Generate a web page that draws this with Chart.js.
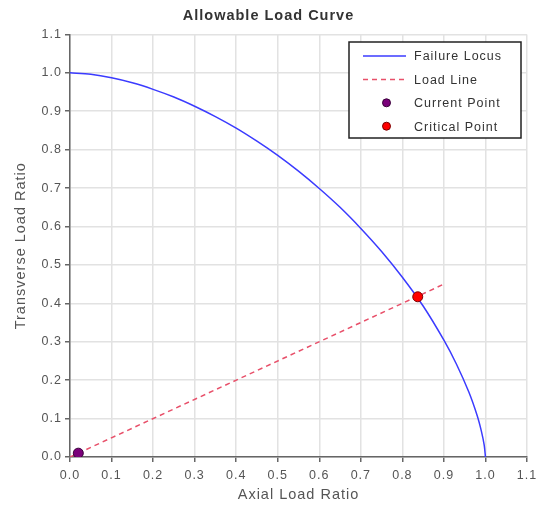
<!DOCTYPE html>
<html>
<head>
<meta charset="utf-8">
<script src="https://cdn.jsdelivr.net/npm/chart.js@4.4.0/dist/chart.umd.min.js"></script>
<style>
  body { margin: 0; background: #fff; }
  #wrap { width: 537px; height: 505px; }
</style>
</head>
<body>
<div id="wrap"><canvas id="myCanvas"></canvas></div>
<script>
// values
var locusX = [0, 0.05, 0.1, 0.15, 0.2, 0.25, 0.3, 0.35, 0.4, 0.45, 0.5, 0.55, 0.6, 0.65, 0.7, 0.75, 0.8, 0.85, 0.9, 0.93, 0.96, 0.98, 0.99, 0.997, 1.0];
var locusY = [1.0, 0.996, 0.987, 0.974, 0.957, 0.937, 0.913, 0.886, 0.856, 0.822, 0.785, 0.744, 0.699, 0.650, 0.595, 0.535, 0.468, 0.393, 0.304, 0.242, 0.169, 0.108, 0.068, 0.031, 0];
var loadLineX = [0, 0.9];
var loadLineY = [0, 0.45];
var currentPoint = [0.02, 0.01];
var criticalPoint = [0.837, 0.417];
var seriesNames = ['Failure Locus', 'Load Line', 'Current Point', 'Critical Point'];

const FONT = "'Liberation Sans', Arial, sans-serif";
const CHART = document.getElementById('myCanvas').getContext('2d');

function toPoints(xs, ys) {
    var pts = [];
    for (var i = 0; i < xs.length; i++) {
        pts.push({x: xs[i], y: ys[i]});
    }
    return pts;
}

var colors = {
    locus: '#3b3bff',
    load: '#e8506a',
    current: '#7a007a',
    critical: '#ff0000'
};

// the reference text is a little spaced out
var spacing = {
    id: 'spacing',
    beforeLayout: function(chart) { chart.ctx.letterSpacing = '1px'; },
    beforeDraw: function(chart) { chart.ctx.letterSpacing = '1px'; }
};

// legend box drawn inside the plot, top right
var boxLegend = {
    id: 'boxLegend',
    afterDraw: function(chart) {
        var ctx = chart.ctx;
        var left = 349, top = 42, w = 172, h = 96;
        ctx.save();
        ctx.fillStyle = '#fff';
        ctx.fillRect(left, top, w, h);
        ctx.strokeStyle = '#222';
        ctx.lineWidth = 1.5;
        ctx.strokeRect(left, top, w, h);
        ctx.font = '12.5px ' + FONT;
        ctx.textBaseline = 'middle';
        for (var i = 0; i < seriesNames.length; i++) {
            var y = top + 14 + i * 23.4;
            if (i === 0 || i === 1) {
                ctx.beginPath();
                ctx.strokeStyle = i === 0 ? colors.locus : colors.load;
                ctx.lineWidth = 1.5;
                ctx.setLineDash(i === 1 ? [5, 4] : []);
                ctx.moveTo(363, y);
                ctx.lineTo(406, y);
                ctx.stroke();
                ctx.setLineDash([]);
            } else {
                ctx.beginPath();
                ctx.arc(386.5, y, 4, 0, Math.PI * 2);
                ctx.fillStyle = i === 2 ? colors.current : colors.critical;
                ctx.fill();
                ctx.strokeStyle = i === 2 ? '#3a003a' : '#7a0000';
                ctx.lineWidth = 1;
                ctx.stroke();
            }
            ctx.fillStyle = '#333';
            ctx.fillText(seriesNames[i], 414, y + 1);
        }
        ctx.restore();
    }
};

function axis(titleText, titlePad, tickPad) {
    return {
        type: 'linear',
        min: 0,
        max: 1.1,
        grid: {
            color: '#e2e2e2',
            lineWidth: 1.5,
            tickLength: 5,
            tickColor: '#666'
        },
        border: { color: '#666', width: 1.5 },
        ticks: {
            stepSize: 0.1,
            padding: tickPad,
            color: '#555',
            font: { family: FONT, size: 12.5 },
            callback: function(v) { return Number(v).toFixed(1); }
        },
        title: {
            display: true,
            text: titleText,
            color: '#555',
            font: { family: FONT, size: 14.5 },
            padding: titlePad
        }
    };
}

var xAxis = axis('Axial Load Ratio', { top: 0, bottom: 1 }, 6);
xAxis.afterFit = function(scale) {
    scale.height = 48;
    scale.paddingLeft = 0;
    scale.paddingRight = 0;
};
var yAxis = axis('Transverse Load Ratio', { top: 2, bottom: 0 }, 3);
yAxis.afterFit = function(scale) {
    scale.width = 60;
    scale.paddingTop = 0;
    scale.paddingBottom = 0;
};

var configure = {
    type: 'scatter',
    data: {
        datasets: [{
            label: seriesNames[2],
            data: [{x: currentPoint[0], y: currentPoint[1]}],
            backgroundColor: colors.current,
            borderColor: '#3a003a',
            borderWidth: 1,
            pointRadius: 5,
            order: 0
        }, {
            label: seriesNames[3],
            data: [{x: criticalPoint[0], y: criticalPoint[1]}],
            backgroundColor: colors.critical,
            borderColor: '#7a0000',
            borderWidth: 1,
            pointRadius: 5,
            order: 0
        }, {
            label: seriesNames[0],
            data: toPoints(locusX, locusY),
            showLine: true,
            borderColor: colors.locus,
            borderWidth: 1.5,
            pointRadius: 0,
            tension: 0.3,
            order: 1
        }, {
            label: seriesNames[1],
            data: toPoints(loadLineX, loadLineY),
            showLine: true,
            borderColor: colors.load,
            borderWidth: 1.5,
            borderDash: [5, 4],
            pointRadius: 0,
            order: 2
        }]
    },
    options: {
        responsive: true,
        maintainAspectRatio: false,
        animation: false,
        layout: { padding: { top: 6, right: 10, left: 10, bottom: 0 } },
        plugins: {
            legend: { display: false },
            tooltip: { enabled: false },
            title: {
                display: true,
                text: 'Allowable Load Curve',
                color: '#333',
                font: { family: FONT, size: 14.5, weight: 'bold' },
                padding: { top: 1, bottom: 10 }
            }
        },
        scales: { x: xAxis, y: yAxis }
    },
    plugins: [spacing, boxLegend]
};

window.barChart = new Chart(CHART, configure);
</script>
</body>
</html>
